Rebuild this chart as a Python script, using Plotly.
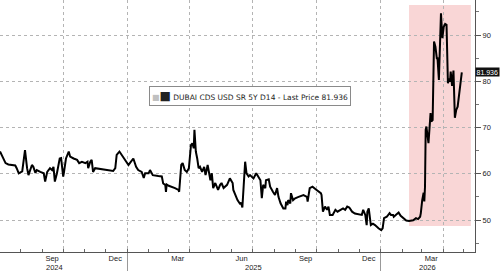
import plotly.graph_objects as go

dates = [
    "2024-07-02","2024-07-07","2024-07-10","2024-07-14","2024-07-24","2024-07-26","2024-07-29",
    "2024-08-03","2024-08-07","2024-08-10","2024-08-12","2024-08-17","2024-08-19","2024-08-22","2024-08-24","2024-08-29",
    "2024-09-03","2024-09-05","2024-09-08","2024-09-12","2024-09-15","2024-09-17","2024-09-19","2024-09-22","2024-09-26","2024-09-28",
    "2024-10-01","2024-10-02","2024-10-05","2024-10-09","2024-10-11","2024-10-16","2024-10-21","2024-10-24","2024-10-28",
    "2024-11-02","2024-11-05","2024-11-06","2024-11-09","2024-11-11","2024-11-13","2024-11-16","2024-11-23",
    "2024-12-03","2024-12-12","2024-12-15","2024-12-17","2024-12-21","2024-12-24","2024-12-28","2024-12-31",
    "2025-01-03","2025-01-05","2025-01-08","2025-01-10","2025-01-14","2025-01-17","2025-01-22","2025-01-25","2025-01-27",
    "2025-02-01","2025-02-03","2025-02-07","2025-02-15","2025-02-20","2025-02-22","2025-02-25","2025-02-26","2025-02-27",
    "2025-03-02","2025-03-06","2025-03-11","2025-03-16","2025-03-17","2025-03-20","2025-03-22","2025-03-25","2025-03-28","2025-03-31",
    "2025-04-03","2025-04-05","2025-04-07","2025-04-08","2025-04-10","2025-04-12","2025-04-14","2025-04-16","2025-04-19","2025-04-22","2025-04-24","2025-04-27",
    "2025-05-01","2025-05-03","2025-05-05","2025-05-08","2025-05-12","2025-05-15","2025-05-17","2025-05-20","2025-05-25","2025-05-29",
    "2025-06-02","2025-06-03","2025-06-06","2025-06-09","2025-06-13","2025-06-14","2025-06-16","2025-06-18","2025-06-19","2025-06-20","2025-06-22","2025-06-25","2025-06-27","2025-06-30",
    "2025-07-02","2025-07-06","2025-07-09","2025-07-12","2025-07-14","2025-07-16","2025-07-19","2025-07-20","2025-07-24","2025-07-26","2025-07-30",
    "2025-08-02","2025-08-05","2025-08-07","2025-08-10","2025-08-14","2025-08-17","2025-08-18","2025-08-20","2025-08-21","2025-08-24","2025-08-25","2025-08-28","2025-08-31",
    "2025-09-05","2025-09-12","2025-09-17","2025-09-18","2025-09-21","2025-09-25","2025-09-30",
    "2025-10-04","2025-10-07","2025-10-08","2025-10-10","2025-10-13","2025-10-16","2025-10-18","2025-10-20","2025-10-24","2025-10-28","2025-10-31",
    "2025-11-04","2025-11-08","2025-11-11","2025-11-14","2025-11-17","2025-11-21","2025-11-25","2025-11-30",
    "2025-12-05","2025-12-07","2025-12-10","2025-12-12","2025-12-13","2025-12-15","2025-12-17","2025-12-18","2025-12-21","2025-12-24","2025-12-29",
    "2026-01-02","2026-01-04","2026-01-06","2026-01-10","2026-01-14","2026-01-16","2026-01-19","2026-01-20","2026-01-23","2026-01-27","2026-01-30",
    "2026-02-03","2026-02-07","2026-02-11","2026-02-17","2026-02-21","2026-02-24","2026-02-27","2026-02-28",
    "2026-03-02","2026-03-04","2026-03-05","2026-03-06","2026-03-07","2026-03-08","2026-03-11","2026-03-12","2026-03-14","2026-03-15","2026-03-17",
    "2026-03-19","2026-03-21","2026-03-23","2026-03-24","2026-03-26","2026-03-28","2026-03-29","2026-03-31",
    "2026-04-02","2026-04-04","2026-04-06","2026-04-08","2026-04-10","2026-04-11","2026-04-12","2026-04-14","2026-04-16","2026-04-18","2026-04-20","2026-04-22","2026-04-24","2026-04-25","2026-04-28",
]

cds_values = [
    64.8,63.3,62.3,62.0,61.8,61.2,60.1,
    60.5,65.1,61.2,59.7,61.9,61.5,60.2,60.8,60.4,
    60.1,58.3,60.4,61.2,60.8,61.5,58.3,60.1,63.3,63.4,
    59.4,60.2,63.3,64.8,63.7,63.3,63.0,62.3,62.6,
    62.3,62.6,61.2,62.6,63.0,60.4,61.2,61.0,
    60.8,60.6,61.2,64.1,64.8,64.1,63.0,62.6,
    61.9,62.3,62.8,63.3,61.5,60.8,60.4,59.1,60.1,
    60.1,60.8,59.7,59.5,59.4,57.9,57.6,56.1,57.7,
    57.4,57.2,56.9,56.5,56.1,61.9,62.3,60.8,60.4,61.2,
    66.2,66.6,65.5,69.5,64.8,63.3,61.2,61.5,60.4,61.5,59.7,61.9,
    58.6,60.1,56.9,58.0,56.5,57.6,58.0,56.9,57.6,59.0,
    58.0,56.5,55.4,54.3,53.4,53.8,52.7,56.9,61.2,62.6,60.1,59.4,59.7,59.2,
    59.0,60.1,59.4,58.6,54.7,57.6,56.9,58.6,58.8,57.2,56.1,
    55.4,56.9,55.0,53.6,52.5,52.5,54.0,53.2,54.3,53.6,55.8,54.3,54.7,
    55.0,55.4,55.0,54.0,56.9,57.2,56.6,
    56.1,55.8,55.4,51.8,52.9,52.2,52.9,51.1,51.1,52.2,51.8,
    52.2,52.5,52.2,52.9,52.7,51.8,51.4,51.3,
    51.1,52.2,51.1,48.9,51.8,52.5,50.7,48.9,49.2,48.9,48.2,
    47.8,48.2,50.4,50.7,51.5,51.1,51.1,50.7,51.1,51.6,50.9,
    50.4,49.9,49.8,49.95,50.4,50.2,50.7,51.5,
    54.3,55.9,54.0,57.2,69.5,70.2,66.6,68.4,73.1,71.3,71.6,
    88.6,87.5,85.0,85.0,80.3,92.5,94.7,89.3,
    91.8,92.4,92.2,79.6,80.6,79.9,82.1,79.0,82.3,72.1,73.8,74.5,77.0,77.7,81.936,
]

series_name = "DUBAI CDS USD SR 5Y D14 - Last Price 81.936"
last_price = 81.936

x_range = ["2024-07-02", "2026-05-17"]
y_range = [43.08, 97.57]
y_ticks = [50, 60, 70, 80, 90]

label_dates = ["2024-09-15", "2024-12-15", "2025-03-15", "2025-06-15",
               "2025-09-15", "2025-12-15", "2026-03-15"]
label_text = ["Sep", "Dec", "Mar", "Jun", "Sep", "Dec", "Mar"]
year_dates = ["2024-09-18", "2025-07-02", "2026-03-10"]
year_text = ["2024", "2025", "2026"]

highlight_x = ["2026-02-11", "2026-05-11"]
highlight_y = [48.7, 96.5]

FONT = "Liberation Sans"
GRID = "#b4b4b4"
TXT = "#222222"

fig = go.Figure()
fig.add_trace(go.Scatter(x=dates, y=cds_values, mode="lines",
                         line=dict(color="#000000", width=2),
                         showlegend=False, hoverinfo="skip",
                         xaxis="x", yaxis="y"))
for ax in ["x2", "x3", "x4"]:
    fig.add_trace(go.Scatter(x=[], y=[], xaxis=ax, yaxis="y", showlegend=False))

common = dict(range=x_range, type="date", anchor="y", side="bottom")
fig.update_layout(
    width=500, height=271,
    margin=dict(l=0, r=25, t=0, b=19),
    paper_bgcolor="white", plot_bgcolor="white",
    font=dict(family=FONT, size=7.5, color=TXT),
    xaxis=dict(**common, showgrid=False, zeroline=False,
               tickmode="linear", tick0="2024-07-01", dtick="M1",
               ticks="inside", ticklen=3, tickcolor="#666666", tickwidth=1,
               showticklabels=False, showline=True, linecolor="#555555", linewidth=1),
    xaxis2=dict(**common, overlaying="x", tickmode="linear", tick0="2024-10-01", dtick="M3",
                showgrid=True, gridcolor=GRID, griddash="dot", gridwidth=1,
                ticks="", showticklabels=False, showline=False, zeroline=False),
    xaxis3=dict(**common, overlaying="x", tickmode="array", tickvals=label_dates, ticktext=label_text,
                showgrid=False, ticks="", showline=False, zeroline=False,
                tickfont=dict(family=FONT, size=7.5, color=TXT), ticklabelstandoff=0),
    xaxis4=dict(**common, overlaying="x", tickmode="linear", tick0="2025-01-01", dtick="M12",
                showgrid=False, ticks="outside", ticklen=19, tickcolor="#999999", tickwidth=1,
                showticklabels=False, showline=False, zeroline=False),
    yaxis=dict(range=y_range, side="right", tickmode="array", tickvals=y_ticks,
               showgrid=True, gridcolor=GRID, griddash="dot", gridwidth=1, zeroline=False,
               ticks="outside", ticklen=5, tickcolor="#555555", tickwidth=1,
               minor=dict(dtick=5, tick0=45, ticks="outside", ticklen=3, tickcolor="#777777", showgrid=False),
               showline=True, linecolor="#555555", linewidth=1,
               tickfont=dict(family=FONT, size=7.5, color=TXT)),
)

fig.add_shape(type="rect", xref="x", yref="y",
              x0=highlight_x[0], x1=highlight_x[1], y0=highlight_y[0], y1=highlight_y[1],
              fillcolor="#f9d6d6", line=dict(width=0), layer="below")

for d, t in zip(year_dates, year_text):
    fig.add_annotation(x=d, xref="x", y=-0.06, yref="paper", text=t, showarrow=False,
                       font=dict(family=FONT, size=7.5, color=TXT),
                       xanchor="center", yanchor="middle")

fig.add_annotation(x=0.5257, y=0.62, xref="paper", yref="paper",
                   text="<span style='color:#c0c0c0;font-size:8px'>■</span><span style='font-size:12px'>■</span> " + series_name,
                   showarrow=False, xanchor="center", yanchor="middle",
                   font=dict(family="DejaVu Sans", size=7.5, color=TXT),
                   bgcolor="white", bordercolor="#8a8a8a", borderwidth=1, borderpad=2)

fig.add_annotation(x=1.0, xref="paper", y=last_price, yref="y", text=str(last_price),
                   showarrow=False, xanchor="left", yanchor="middle", xshift=0,
                   font=dict(family=FONT, size=7, color="white"),
                   bgcolor="#111111", borderpad=0.5)

fig.write_html("out.html")
